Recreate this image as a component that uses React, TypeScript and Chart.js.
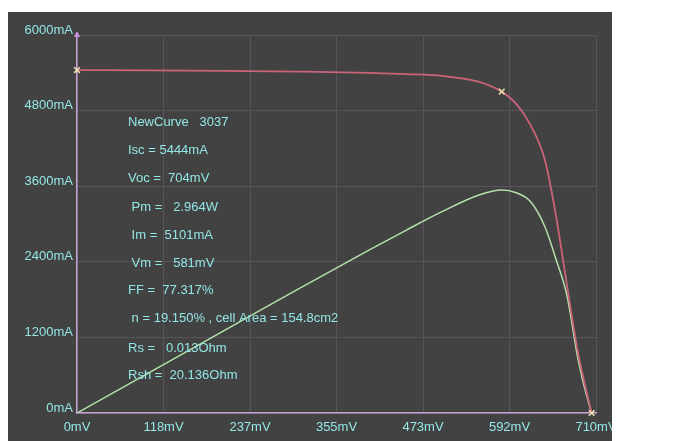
import React, { useEffect, useRef } from "react";
import { Chart, registerables } from "chart.js";

Chart.register(...registerables);

// Voltage samples (mV)
const voltages = [0, 100, 200, 300, 400, 450, 500, 550, 581, 600, 620, 640, 655, 670, 685, 695, 704];
// I-V curve current (mA)
const currents = [5444, 5440, 5432, 5420, 5400, 5380, 5350, 5255, 5101, 4920, 4580, 4020, 3150, 2050, 980, 440, 0];
// P-V curve, plotted on the mA axis (6000 mA = 5 W)
const powerScaled = [0, 650, 1300, 1950, 2590, 2900, 3200, 3460, 3540, 3500, 3360, 2960, 2450, 1880, 880, 370, 0];
// Marked points: Isc, max power point, Voc
const markerV = [0, 581, 704];
const markerI = [5444, 5101, 0];

const xMax = 710;
const yMax = 6000;
const yStep = 1200;

const infoLines = [
  "NewCurve   3037",
  "Isc = 5444mA",
  "Voc =  704mV",
  " Pm =   2.964W",
  " Im =  5101mA",
  " Vm =   581mV",
  "FF =  77.317%",
  " n = 19.150% , cell Area = 154.8cm2",
  "Rs =   0.013Ohm",
  "Rsh =  20.136Ohm",
];
const infoY = [110, 138, 166, 195, 223, 251, 278, 306, 336, 363];

const CYAN = "#92e6e4";
const FONT = "Liberation Sans, Arial, sans-serif";

export default function App() {
  const ref = useRef<HTMLCanvasElement | null>(null);

  useEffect(() => {
    if (!ref.current) return;
    const textPlugin = {
      id: "infoText",
      afterDraw(chart: any) {
        const ctx = chart.ctx;
        ctx.save();
        ctx.font = `13px ${FONT}`;
        ctx.fillStyle = CYAN;
        ctx.textBaseline = "middle";
        ctx.textAlign = "left";
        infoLines.forEach((t, i) => ctx.fillText(t, 120, infoY[i]));
        ctx.restore();
      },
    };
    const chart = new Chart(ref.current, {
      type: "line",
      data: {
        datasets: [
          {
            label: "markers",
            data: markerV.map((v, i) => ({ x: v, y: markerI[i] })),
            showLine: false,
            pointStyle: "crossRot",
            pointRadius: 4,
            pointBorderWidth: 1.5,
            borderColor: "#f2e2b4",
            backgroundColor: "#f2e2b4",
            clip: false as any,
          },
          {
            label: "axisTip",
            data: [{ x: 0, y: yMax }],
            showLine: false,
            pointStyle: "triangle",
            pointRadius: 3,
            borderColor: "#c98fd6",
            backgroundColor: "#c98fd6",
            clip: false as any,
          },
          {
            label: "I-V",
            data: voltages.map((v, i) => ({ x: v, y: currents[i] })),
            borderColor: "#c96479",
            borderWidth: 1.8,
            pointRadius: 0,
            cubicInterpolationMode: "monotone",
            fill: false,
          },
          {
            label: "P-V",
            data: voltages.map((v, i) => ({ x: v, y: powerScaled[i] })),
            borderColor: "#b4e2aa",
            borderWidth: 1.5,
            pointRadius: 0,
            cubicInterpolationMode: "monotone",
            fill: false,
          },
        ],
      },
      plugins: [textPlugin],
      options: {
        responsive: false,
        animation: false,
        events: [],
        layout: { padding: { top: 23, right: 16, left: 0, bottom: 0 } },
        plugins: { legend: { display: false }, tooltip: { enabled: false } },
        scales: {
          x: {
            type: "linear",
            min: 0,
            max: xMax,
            afterBuildTicks(scale: any) {
              const t = [];
              for (let i = 0; i <= 6; i++) t.push({ value: (xMax * i) / 6 });
              scale.ticks = t;
            },
            afterFit(scale: any) {
              scale.height = 28;
              scale.paddingRight = 0;
              scale.paddingLeft = 0;
            },
            grid: { color: "#57545b", lineWidth: 1, drawTicks: false },
            border: { color: "#c9a2d2", width: 1.5 },
            ticks: {
              color: CYAN,
              font: { family: FONT, size: 13 },
              padding: 7,
              maxRotation: 0,
              autoSkip: false,
              callback: (v: any) => `${Math.round(Number(v))}mV`,
            },
          },
          y: {
            type: "linear",
            min: 0,
            max: yMax,
            afterFit(scale: any) {
              scale.width = 69;
              scale.paddingTop = 0;
              scale.paddingBottom = 0;
            },
            grid: { color: "#57545b", lineWidth: 1, drawTicks: false },
            border: { color: "#c9a2d2", width: 1.5 },
            ticks: {
              stepSize: yStep,
              color: CYAN,
              font: { family: FONT, size: 13 },
              padding: 4,
              labelOffset: -5,
              callback: (v: any) => `${v}mA`,
            },
          },
        },
      },
    } as any);
    return () => chart.destroy();
  }, []);

  return (
    <div style={{ position: "absolute", left: 8, top: 12, width: 604, height: 429, background: "#424242" }}>
      <canvas ref={ref} width={604} height={429} style={{ display: "block" }} />
    </div>
  );
}
